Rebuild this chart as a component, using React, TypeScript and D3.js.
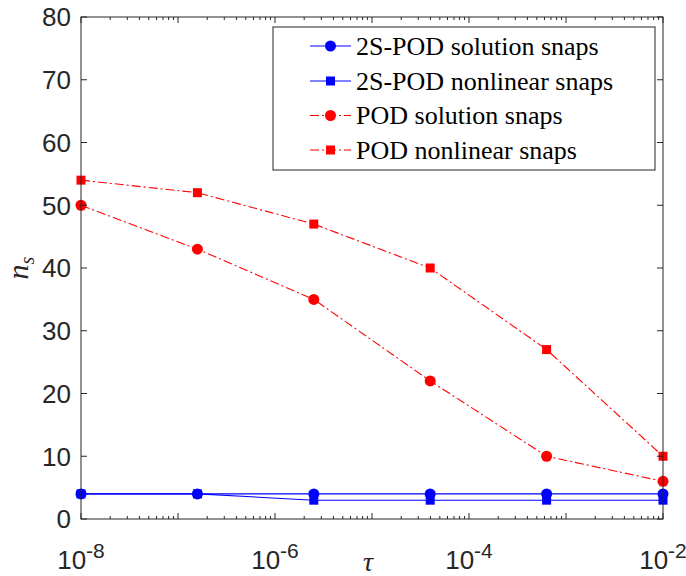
import React from "react";
import * as d3 from "d3";

const tau = [1e-8, 1.585e-7, 2.512e-6, 3.981e-5, 6.31e-4, 1e-2];
const s2Solution = [4, 4, 4, 4, 4, 4];
const s2Nonlinear = [4, 4, 3, 3, 3, 3];
const podSolution = [50, 43, 35, 22, 10, 6];
const podNonlinear = [54, 52, 47, 40, 27, 10];
const yTicks = [0, 10, 20, 30, 40, 50, 60, 70, 80];
const xTickExps = [-8, -6, -4, -2];
const legendLabels = [
  "2S-POD solution snaps",
  "2S-POD nonlinear snaps",
  "POD solution snaps",
  "POD nonlinear snaps",
];

const W = 686, H = 576;
const L = 81, R = 663, T = 17, B = 519;
const AX = "#262626";

export default function App() {
  const x = d3.scaleLog().domain([1e-8, 1e-2]).range([L, R]);
  const y = d3.scaleLinear().domain([0, 80]).range([B, T]);

  const series = [
    { data: s2Solution, color: "#0000ff", marker: "circle", dash: undefined },
    { data: s2Nonlinear, color: "#0000ff", marker: "square", dash: undefined },
    { data: podSolution, color: "#ff0000", marker: "circle", dash: "9,3,2,3" },
    { data: podNonlinear, color: "#ff0000", marker: "square", dash: "9,3,2,3" },
  ];

  const line = d3
    .line<number>()
    .x((_, i) => x(tau[i]))
    .y((d) => y(d));

  const minor: number[] = [];
  for (let e = -8; e < -2; e++) {
    for (let k = 2; k <= 9; k++) minor.push(k * Math.pow(10, e));
  }

  const marker = (m: string, cx: number, cy: number, color: string, key: string) =>
    m === "circle" ? (
      <circle key={key} cx={cx} cy={cy} r={5.5} fill={color} />
    ) : (
      <rect key={key} x={cx - 4.5} y={cy - 4.5} width={9} height={9} fill={color} />
    );

  const legX0 = 310, legX1 = 351, legRows = [46, 81, 115.5, 150];

  return (
    <svg width={W} height={H} style={{ position: "absolute", left: 0, top: 0, background: "#fff" }}>
      <rect x={0} y={0} width={W} height={H} fill="#fff" />
      <rect x={L} y={T} width={R - L} height={B - T} fill="#fff" />
      {/* series */}
      {series.map((s, si) => (
        <g key={si}>
          <path d={line(s.data) || ""} fill="none" stroke={s.color} strokeWidth={1.1} strokeDasharray={s.dash} />
          {s.data.map((v, i) => marker(s.marker, x(tau[i]), y(v), s.color, `${si}-${i}`))}
        </g>
      ))}
      {/* axes box */}
      <rect x={L} y={T} width={R - L} height={B - T} fill="none" stroke={AX} strokeWidth={1} />
      {/* y ticks */}
      {yTicks.map((t) => (
        <g key={t}>
          <line x1={L} x2={L + 6} y1={y(t)} y2={y(t)} stroke={AX} />
          <line x1={R} x2={R - 6} y1={y(t)} y2={y(t)} stroke={AX} />
          <text x={L - 10} y={y(t)} dy="0.36em" textAnchor="end" fontFamily="Liberation Sans, Arial, sans-serif" fontSize={26} fill="#262626">
            {t}
          </text>
        </g>
      ))}
      {/* x ticks */}
      {minor.map((t, i) => (
        <g key={i}>
          <line x1={x(t)} x2={x(t)} y1={B} y2={B - 3} stroke={AX} />
          <line x1={x(t)} x2={x(t)} y1={T} y2={T + 3} stroke={AX} />
        </g>
      ))}
      {d3.range(-8, -1).map((e) => (
        <g key={e}>
          <line x1={x(Math.pow(10, e))} x2={x(Math.pow(10, e))} y1={B} y2={B - 6} stroke={AX} />
          <line x1={x(Math.pow(10, e))} x2={x(Math.pow(10, e))} y1={T} y2={T + 6} stroke={AX} />
        </g>
      ))}
      {xTickExps.map((e) => (
        <text key={e} x={x(Math.pow(10, e))} y={569} textAnchor="middle" fontFamily="Liberation Sans, Arial, sans-serif" fontSize={26} fill="#262626">
          10
          <tspan dy={-11} fontSize={21}>{e}</tspan>
        </text>
      ))}
      {/* axis labels */}
      <text x={(L + R) / 2 - 4} y={571} textAnchor="middle" fontFamily="Liberation Serif, serif" fontStyle="italic" fontSize={28} fill="#262626">
        τ
      </text>
      <g transform={`translate(28, ${(T + B) / 2}) rotate(-90)`}>
        <text x={0} y={0} textAnchor="middle" fontFamily="Liberation Serif, serif" fontStyle="italic" fontSize={30} fill="#262626">
          n<tspan fontSize={20} dy={6}>s</tspan>
        </text>
      </g>
      {/* legend */}
      <rect x={273} y={27} width={382} height={143} fill="#fff" stroke="#262626" strokeWidth={1} />
      {legendLabels.map((lab, i) => {
        const s = series[i];
        const cy = legRows[i];
        return (
          <g key={lab}>
            <line x1={legX0} x2={legX1} y1={cy} y2={cy} stroke={s.color} strokeWidth={1.1} strokeDasharray={s.dash} />
            {marker(s.marker, (legX0 + legX1) / 2, cy, s.color, "lm" + i)}
            <text x={356} y={cy} dy="0.33em" fontFamily="Liberation Serif, serif" fontSize={26} fill="#000">
              {lab}
            </text>
          </g>
        );
      })}
    </svg>
  );
}
